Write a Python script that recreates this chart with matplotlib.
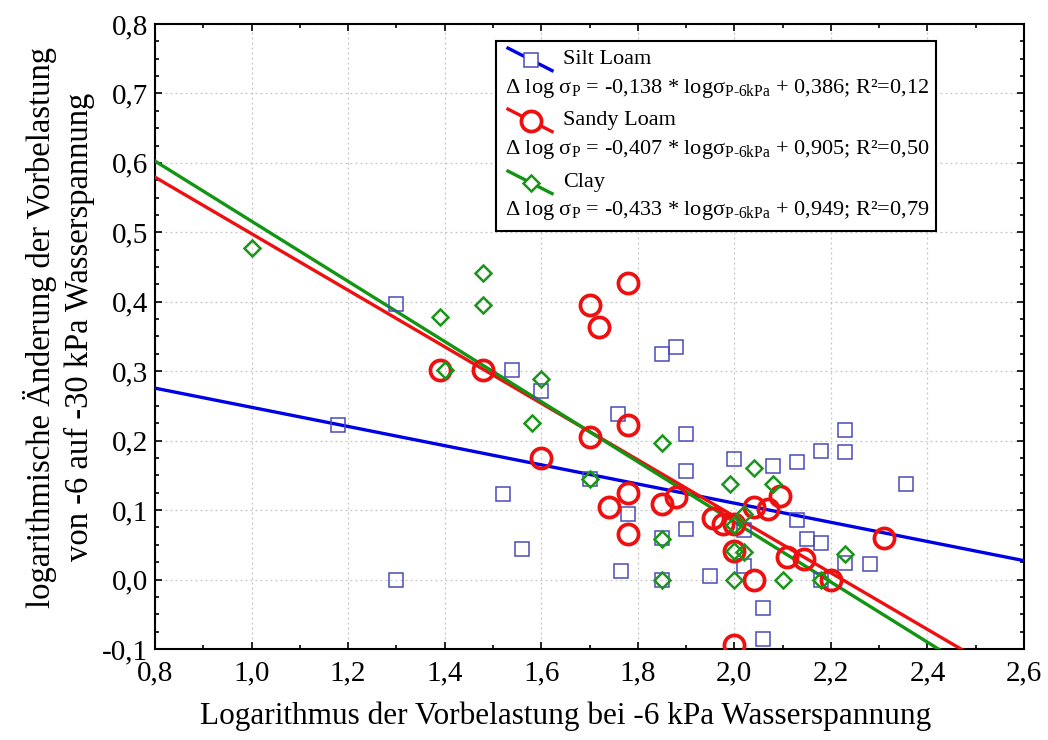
import matplotlib
matplotlib.use('Agg')
import matplotlib.pyplot as plt
from matplotlib.ticker import MultipleLocator, FuncFormatter
from matplotlib.patches import Rectangle
from matplotlib.lines import Line2D
import numpy as np

plt.rcParams['font.family'] = ['Liberation Serif', 'DejaVu Serif']
plt.rcParams['mathtext.fontset'] = 'custom'
plt.rcParams['mathtext.rm'] = 'Liberation Serif'
plt.rcParams['axes.unicode_minus'] = False

# Silt Loam
silt_x = [1.18, 1.30, 1.30, 1.52, 1.54, 1.56, 1.60, 1.70, 1.76, 1.765, 1.78, 1.85,
          1.85, 1.85, 1.88, 1.90, 1.90, 1.90, 1.95, 2.00, 2.02, 2.02, 2.06, 2.06,
          2.08, 2.13, 2.13, 2.15, 2.18, 2.18, 2.18, 2.23, 2.23, 2.23, 2.28, 2.355]
silt_y = [0.222, 0.397, 0.000, 0.123, 0.302, 0.044, 0.272, 0.145, 0.238, 0.013, 0.095, 0.325,
          0.060, 0.000, 0.335, 0.209, 0.156, 0.073, 0.005, 0.173, 0.072, 0.019, -0.041, -0.085,
          0.163, 0.169, 0.086, 0.059, 0.185, 0.053, 0.000, 0.216, 0.183, 0.024, 0.022, 0.137]

# Sandy Loam
sandy_x = [1.39, 1.48, 1.60, 1.70, 1.70, 1.72, 1.74, 1.78, 1.78, 1.78, 1.78, 1.85, 1.88,
           1.955, 1.976, 2.00, 2.00, 2.00, 2.04, 2.04, 2.07, 2.095, 2.11, 2.145, 2.20, 2.31]
sandy_y = [0.302, 0.302, 0.175, 0.396, 0.205, 0.363, 0.104, 0.427, 0.223, 0.125, 0.066, 0.109, 0.119,
           0.089, 0.080, 0.080, 0.041, -0.094, 0.104, 0.000, 0.102, 0.120, 0.032, 0.030, 0.000, 0.060]

# Clay
clay_x = [1.00, 1.39, 1.40, 1.48, 1.48, 1.58, 1.60, 1.70, 1.85, 1.85, 1.85, 1.99, 2.00,
          2.00, 2.00, 2.02, 2.02, 2.04, 2.08, 2.10, 2.18, 2.23]
clay_y = [0.477, 0.378, 0.302, 0.442, 0.396, 0.226, 0.289, 0.145, 0.197, 0.058, 0.000, 0.137, 0.079,
          0.041, 0.000, 0.094, 0.039, 0.161, 0.137, 0.000, 0.000, 0.037]

# Regressionsgeraden: Steigung, Achsenabschnitt, R²
names = ['Silt Loam', 'Sandy Loam', 'Clay']
slopes = [-0.138, -0.407, -0.433]
intercepts = [0.386, 0.905, 0.949]
r2 = [0.12, 0.50, 0.79]

line_colors = ['#0000e6', '#ee1010', '#129512']
mk_colors = ['#4a4ab8', '#ee1010', '#1a951a']


def komma(v, pos):
    return ('%.1f' % v).replace('.', ',')


fig = plt.figure(figsize=(10.48, 7.40), dpi=100)
ax = fig.add_axes([0.1479, 0.1230, 0.8292, 0.8446])

xs = np.array([0.8, 2.6])
for i in range(3):
    ax.plot(xs, slopes[i] * xs + intercepts[i], color=line_colors[i], lw=2.4, zorder=3)

ax.plot(silt_x, silt_y, 's', ms=10.5, mfc='none', mec=mk_colors[0], mew=1.1, zorder=4)
ax.plot(clay_x, clay_y, 'D', ms=8.5, mfc='none', mec=mk_colors[2], mew=1.8, zorder=5)
ax.plot(sandy_x, sandy_y, 'o', ms=14.5, mfc='none', mec=mk_colors[1], mew=2.7, zorder=4)

ax.set_xlim(0.8, 2.6)
ax.set_ylim(-0.1, 0.8)
ax.xaxis.set_major_locator(MultipleLocator(0.2))
ax.xaxis.set_minor_locator(MultipleLocator(0.1))
ax.yaxis.set_major_locator(MultipleLocator(0.1))
ax.yaxis.set_minor_locator(MultipleLocator(0.025))
ax.xaxis.set_major_formatter(FuncFormatter(komma))
ax.yaxis.set_major_formatter(FuncFormatter(komma))
ax.tick_params(which='both', direction='in', top=True, right=True, width=1.2)
ax.tick_params(which='major', length=5, labelsize=21, pad=5)
ax.tick_params(axis='x', which='major', pad=8)
ax.tick_params(which='minor', length=3)
ax.grid(True, which='major', color='#c4c4c4', linestyle=(0, (1.5, 2.5)), lw=0.9)
for s in ax.spines.values():
    s.set_linewidth(1.5)

ax.set_xlabel('Logarithmus der Vorbelastung bei -6 kPa Wasserspannung', fontsize=22.5)
ax.set_ylabel('logarithmische Änderung der Vorbelastung\nvon -6 auf -30 kPa Wasserspannung',
              fontsize=23.5, linespacing=1.3)
ax.xaxis.set_label_coords(0.472, -0.084)
ax.yaxis.set_label_coords(-0.069, 0.515)

# Legende mit Gleichungen
T = ax.transAxes
ax.add_patch(Rectangle((0.3924, 0.6693), 0.5063, 0.3040, transform=T, facecolor='white',
                       edgecolor='black', lw=1.5, zorder=10))
markers = ['s', 'o', 'D']
msizes = [10.5, 14.5, 8.5]
mews = [1.1, 2.7, 1.8]
row_y = [0.9424, 0.8448, 0.7456]
eq_y = [0.896, 0.7984, 0.7008]
for i in range(3):
    y0 = row_y[i]
    ax.add_line(Line2D([0.4062, 0.4569], [y0 + 0.019, y0 - 0.017], transform=T,
                       color=line_colors[i], lw=2.4, zorder=11))
    ax.add_line(Line2D([0.4327], [y0], transform=T, marker=markers[i], ms=msizes[i],
                       mfc='white', mec=mk_colors[i], mew=mews[i], ls='none', zorder=12))
    ax.text(0.4695, y0, names[i], transform=T, fontsize=16, va='center', zorder=12)
    eq = ('Δ log σ$_\\mathregular{P}$ = %s * logσ$_\\mathregular{P\u20106kPa}$ + %s; R²=%s'
          % (('%.3f' % slopes[i]).replace('.', ','), ('%.3f' % intercepts[i]).replace('.', ','),
             ('%.2f' % r2[i]).replace('.', ',')))
    ax.text(0.4028, eq_y[i], eq, transform=T, fontsize=16, va='center', zorder=12)

fig.savefig('out.png', dpi=100)
